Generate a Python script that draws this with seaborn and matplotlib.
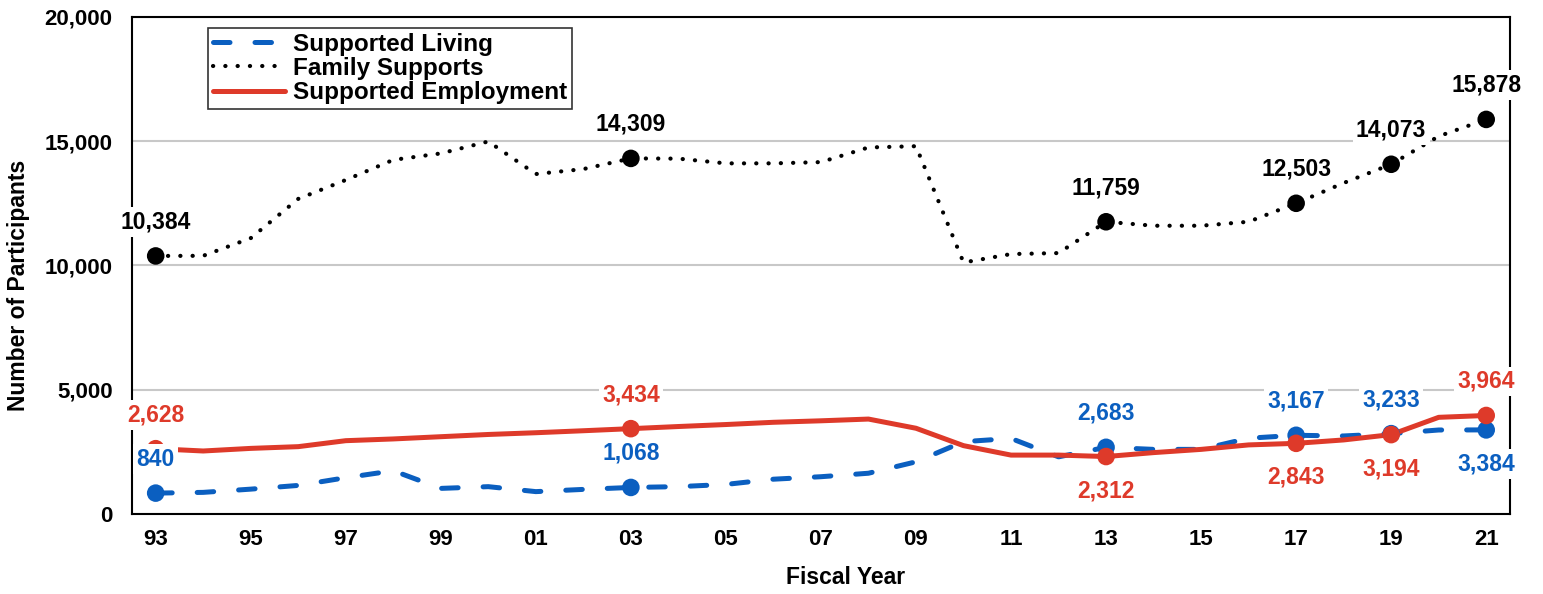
import pandas as pd
import matplotlib.pyplot as plt
import seaborn as sns

# values, fiscal years 93..21
years = list(range(1993, 2022))
supported_living = [840, 870, 1000, 1150, 1460, 1740, 1030, 1100, 900, 990,
                    1068, 1100, 1190, 1400, 1500, 1640, 2100, 2910, 3040, 2300,
                    2683, 2600, 2600, 3050, 3167, 3140, 3233, 3380, 3384]
family_supports = [10384, 10390, 11100, 12680, 13440, 14250, 14510, 14990, 13680, 13880,
                   14309, 14300, 14110, 14110, 14160, 14750, 14800, 10120, 10460, 10500,
                   11759, 11600, 11600, 11760, 12503, 13320, 14073, 15200, 15878]
supported_employment = [2628, 2535, 2640, 2710, 2950, 3020, 3110, 3200, 3270, 3350,
                        3434, 3520, 3600, 3690, 3750, 3820, 3450, 2750, 2370, 2370,
                        2312, 2470, 2600, 2780, 2843, 2980, 3194, 3890, 3964]
marked_years = [1993, 2003, 2013, 2017, 2019, 2021]
# label placement: +1 above the point, -1 below
living_side = [1, 1, 1, 1, 1, -1]
family_side = [1, 1, 1, 1, 1, 1]
employment_side = [1, 1, -1, -1, -1, 1]

df = pd.DataFrame({'Year': years,
                   'Supported Living': supported_living,
                   'Family Supports': family_supports,
                   'Supported Employment': supported_employment})

sns.set_theme(style="white")
plt.rcParams['font.family'] = ['Liberation Sans', 'DejaVu Sans']
plt.rcParams['font.weight'] = 'bold'
for key in ['text.color', 'axes.labelcolor', 'xtick.color', 'ytick.color']:
    plt.rcParams[key] = 'black'

blue = '#0B5FC0'
red = '#DE3A2A'
black = '#000000'

fig = plt.figure(figsize=(15.43, 5.94), dpi=100)
ax = fig.add_axes([0.0855, 0.1347, 0.8931, 0.8367])

series = [('Supported Living', blue, (0, (3.3, 5.0)), 3.6, living_side),
          ('Family Supports', black, (0, (0.05, 2.9)), 3.0, family_side),
          ('Supported Employment', red, '-', 3.6, employment_side)]

for name, color, ls, lw, sides in series:
    sns.lineplot(data=df, x='Year', y=name, ax=ax, color=color, linewidth=lw,
                 label=name, zorder=3)
    line = ax.lines[-1]
    line.set_linestyle(ls)
    line.set_dash_capstyle('round')
    line.set_solid_capstyle('round')
    sub = df[df['Year'].isin(marked_years)]
    sns.scatterplot(data=sub, x='Year', y=name, ax=ax, color=color, s=160,
                    edgecolor='none', zorder=4, legend=False)
    for yr, val, side in zip(sub['Year'], sub[name], sides):
        ax.annotate(f'{val:,}', (yr, val), textcoords='offset points',
                    xytext=(0, 24.5 * side), ha='center', va='center',
                    fontsize=16.5, fontweight='bold', color=color, zorder=5,
                    bbox=dict(boxstyle='square,pad=0.15', fc='white', ec='none'))

ax.set_xlim(1992.5, 2021.5)
ax.set_ylim(0, 20000)
ax.set_xticks(years[::2])
ax.set_xticklabels([f'{y % 100:02d}' for y in years[::2]])
ax.set_yticks(range(0, 20001, 5000))
ax.set_yticklabels([f'{v:,}' for v in range(0, 20001, 5000)])
ax.tick_params(axis='both', length=0, labelsize=16)
ax.tick_params(axis='y', pad=14)
ax.tick_params(axis='x', pad=11)
ax.yaxis.grid(True, color='#C8C8C8', linewidth=1.5)
ax.set_axisbelow(True)
for s in ax.spines.values():
    s.set_color('black')
    s.set_linewidth(1.5)

ax.set_xlabel('Fiscal Year', fontsize=16.5, fontweight='bold')
ax.set_ylabel('Number of Participants', fontsize=16.5, fontweight='bold')
ax.xaxis.set_label_coords(0.518, -0.105)
ax.yaxis.set_label_coords(-0.074, 0.46)

leg = ax.legend(loc='upper left', bbox_to_anchor=(0.055, 0.978), fontsize=17.5,
                frameon=True, fancybox=False, handlelength=3.0, handletextpad=0.3,
                labelspacing=0.05, borderpad=0.2, borderaxespad=0)
leg.get_frame().set_edgecolor('black')
leg.get_frame().set_linewidth(1.2)
for t in leg.get_texts():
    t.set_fontweight('bold')

plt.savefig('out.png', dpi=100)
